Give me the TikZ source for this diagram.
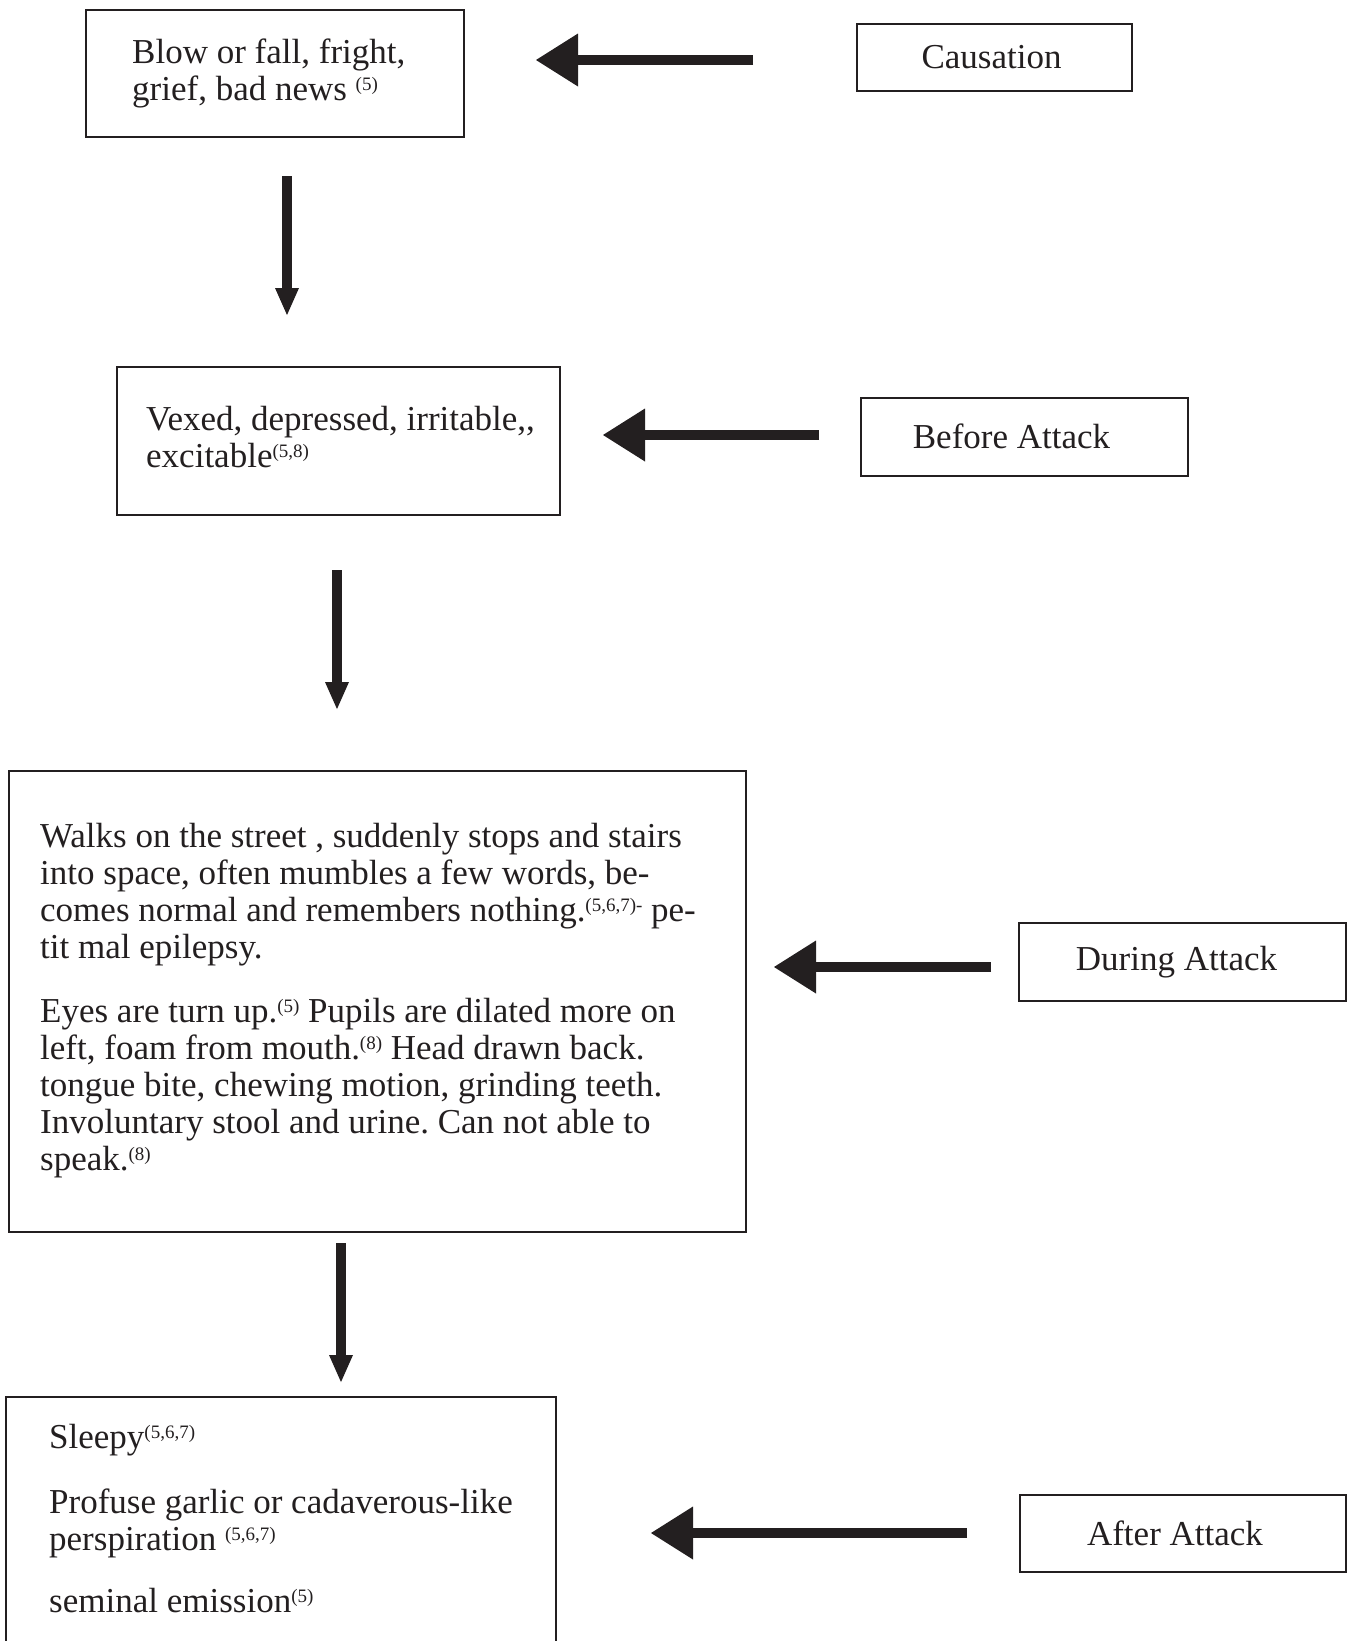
\documentclass[tikz,border=0pt]{standalone}
\usepackage{fontspec}
\setmainfont{Liberation Serif}
\usetikzlibrary{arrows.meta}
\definecolor{ink}{HTML}{231F20}
\newcommand{\refsup}[1]{\raisebox{10pt}{\fontsize{19}{19}\selectfont #1}}
\newcommand{\topstrut}{\rule{0pt}{30pt}}
\tikzset{
  box/.style={draw=ink, line width=2pt, rectangle, inner sep=0pt},
  txt/.style={anchor=north west, align=left, inner sep=0pt, text=ink, font=\fontsize{35}{37}\selectfont\frenchspacing},
  lab/.style={text=ink, font=\fontsize{35}{37}\selectfont},
  harrow/.style={draw=ink, line width=10pt, -{Triangle[length=42pt,width=53pt,line width=0pt]}},
  varrow/.style={draw=ink, line width=10pt, -{Triangle[length=27pt,width=24pt,line width=0pt]}}
}
\begin{document}
\begin{tikzpicture}[x=1pt,y=-1pt]
\useasboundingbox (0,0) rectangle (1353,1641);
\clip (0,0) rectangle (1353,1641);
% main boxes
\node[box, minimum width=378pt, minimum height=127pt] (b1) at (275,73.5) {};
\node[box, minimum width=443pt, minimum height=148pt] (b2) at (338.5,441) {};
\node[box, minimum width=737pt, minimum height=461pt] (b3) at (377.5,1001.5) {};
\node[box, minimum width=550pt, minimum height=320pt] (b4) at (281,1557) {};
% label boxes
\node[box, minimum width=275pt, minimum height=67pt] (cause) at (994.5,57.5) {};
\node[box, minimum width=327pt, minimum height=78pt] (before) at (1024.5,436.5) {};
\node[box, minimum width=327pt, minimum height=78pt] (during) at (1182.5,962) {};
\node[box, minimum width=326pt, minimum height=77pt] (after) at (1183,1533.5) {};
\node[lab] (lcause) at ([xshift=-3pt]cause.center) {Causation};
\node[lab] (lbefore) at ([xshift=-13pt]before.center) {Before Attack};
\node[lab] (lduring) at ([xshift=-6pt]during.center) {During Attack};
\node[lab] (lafter) at ([xshift=-8pt]after.center) {After Attack};
% texts (north west placed 30pt above first baseline)
\node[txt] (t1) at (132,33) {\topstrut Blow or fall, fright,\\grief, bad news \refsup{(5)}};
\node[txt] (t2) at (146,400) {\topstrut Vexed, depressed, irritable,{},\\excitable\refsup{(5,8)}};
\node[txt] (t3) at (40,817) {\topstrut Walks on the street , suddenly stops and stairs\\
into space, often mumbles a few words, be-\\
comes normal and remembers nothing.\refsup{(5,6,7)-} pe-\\
tit mal epilepsy.\\[27pt]
Eyes are turn up.\refsup{(5)} Pupils are dilated more on\\
left, foam from mouth.\refsup{(8)} Head drawn back.\\
tongue bite, chewing motion, grinding teeth.\\
Involuntary stool and urine. Can not able to\\
speak.\refsup{(8)}};
\node[txt] (t4) at (49,1418) {\topstrut Sleepy\refsup{(5,6,7)}\\[28pt]
Profuse garlic or cadaverous-like\\
perspiration \refsup{(5,6,7)}\\[25pt]
seminal emission\refsup{(5)}};
% arrow end points
\coordinate (h1s) at (753,60);  \coordinate (h1e) at (536,60);
\coordinate (h2s) at (819,435); \coordinate (h2e) at (603,435);
\coordinate (h3s) at (991,967); \coordinate (h3e) at (774,967);
\coordinate (h4s) at (967,1533); \coordinate (h4e) at (651,1533);
\coordinate (v1s) at (287,176); \coordinate (v1e) at (287,315);
\coordinate (v2s) at (337,570); \coordinate (v2e) at (337,709);
\coordinate (v3s) at (341,1243); \coordinate (v3e) at (341,1382);
\draw[harrow] (h1s) -- (h1e);
\draw[harrow] (h2s) -- (h2e);
\draw[harrow] (h3s) -- (h3e);
\draw[harrow] (h4s) -- (h4e);
\draw[varrow] (v1s) -- (v1e);
\draw[varrow] (v2s) -- (v2e);
\draw[varrow] (v3s) -- (v3e);
\end{tikzpicture}
\end{document}
